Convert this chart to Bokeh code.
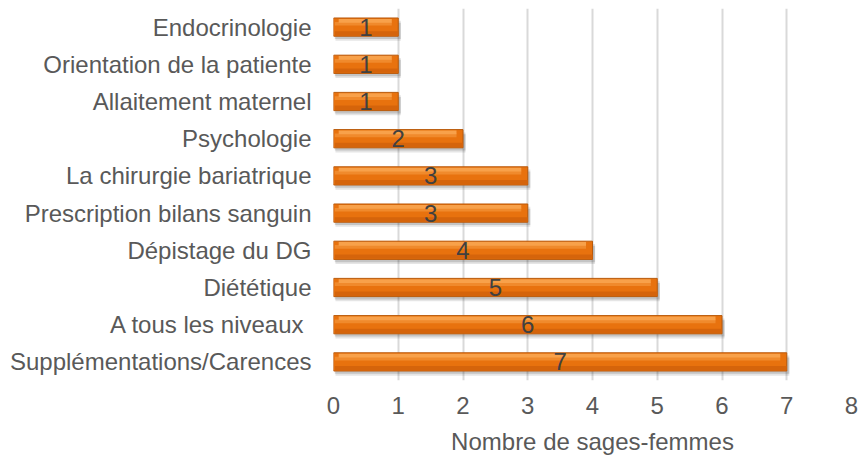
from bokeh.plotting import figure
from bokeh.models import ColumnDataSource, FixedTicker, Range1d
from bokeh.core.properties import value
from bokeh.embed import file_html
from bokeh.resources import INLINE

categories = ["Supplémentations/Carences", "A tous les niveaux ", "Diététique",
              "Dépistage du DG", "Prescription bilans sanguin", "La chirurgie bariatrique",
              "Psychologie", "Allaitement maternel", "Orientation de la patiente",
              "Endocrinologie"]
counts = [7, 6, 5, 4, 3, 3, 2, 1, 1, 1]
x_ticks = [0, 1, 2, 3, 4, 5, 6, 7, 8]
x_title = "Nombre de sages-femmes"

FONT = "Liberation Sans"
TXT = "#595959"

idx = list(range(len(categories)))
src = ColumnDataSource(dict(
    y=idx, v=counts, mid=[c / 2 for c in counts], lab=[str(c) for c in counts],
    ys=[i - 0.1 for i in idx], vs=[c + 0.04 for c in counts],
    yh=[i + 0.17 for i in idx], yh2=[i + 0.09 for i in idx], yd=[i - 0.17 for i in idx],
    vh=[c - 0.1 for c in counts],
))

p = figure(width=858, height=457, output_backend="svg", toolbar_location=None,
           x_range=Range1d(0, 8), y_range=Range1d(-0.5, 9.5),
           min_border_left=333, min_border_right=7, min_border_top=8,
           min_border_bottom=77)
p.outline_line_color = None
p.background_fill_color = "white"

# shadow
p.hbar(y="ys", left=0.03, right="vs", height=0.54, source=src,
       fill_color="#000000", fill_alpha=0.10, line_color=None)
p.hbar(y="ys", left=0.02, right="vs", height=0.44, source=src,
       fill_color="#000000", fill_alpha=0.14, line_color=None)
# main bar
p.hbar(y="y", left=0, right="v", height=0.49, source=src,
       fill_color="#E8720E", line_color="#B9590A", line_width=1)
p.hbar(y="yd", left=0.02, right="v", height=0.12, source=src,
       fill_color="#D5640B", line_color=None)
p.hbar(y="yh2", left=0.02, right="vh", height=0.1, source=src,
       fill_color="#F08A2C", line_color=None)
p.hbar(y="yh", left=0.08, right="vh", height=0.1, source=src,
       fill_color="#F8A14A", line_color=None)

p.text(x="mid", y="y", text="lab", source=src, text_align="center",
       text_baseline="middle", text_font=value(FONT), text_font_size="24px",
       text_color="#404040")

p.xaxis.ticker = FixedTicker(ticks=x_ticks)
p.xaxis.axis_label = x_title
p.xaxis.axis_label_text_font = FONT
p.xaxis.axis_label_text_font_size = "24px"
p.xaxis.axis_label_text_font_style = "normal"
p.xaxis.axis_label_text_color = TXT
p.xaxis.axis_label_standoff = 11
p.xaxis.major_label_text_font = FONT
p.xaxis.major_label_text_font_size = "24px"
p.xaxis.major_label_text_color = TXT
p.xaxis.major_label_standoff = 10
p.xaxis.axis_line_color = None
p.xaxis.major_tick_line_color = None
p.xaxis.minor_tick_line_color = None

p.yaxis.ticker = FixedTicker(ticks=idx)
p.yaxis.major_label_overrides = {i: c for i, c in zip(idx, categories)}
p.yaxis.major_label_text_font = FONT
p.yaxis.major_label_text_font_size = "24px"
p.yaxis.major_label_text_color = TXT
p.yaxis.major_label_standoff = 16
p.yaxis.axis_line_color = None
p.yaxis.major_tick_line_color = None
p.yaxis.minor_tick_line_color = None

p.xgrid.grid_line_color = "#D9D9D9"
p.xgrid.grid_line_width = 2
p.ygrid.grid_line_color = None
p.xgrid.level = "underlay"

open("out.html", "w").write(file_html(p, INLINE))
